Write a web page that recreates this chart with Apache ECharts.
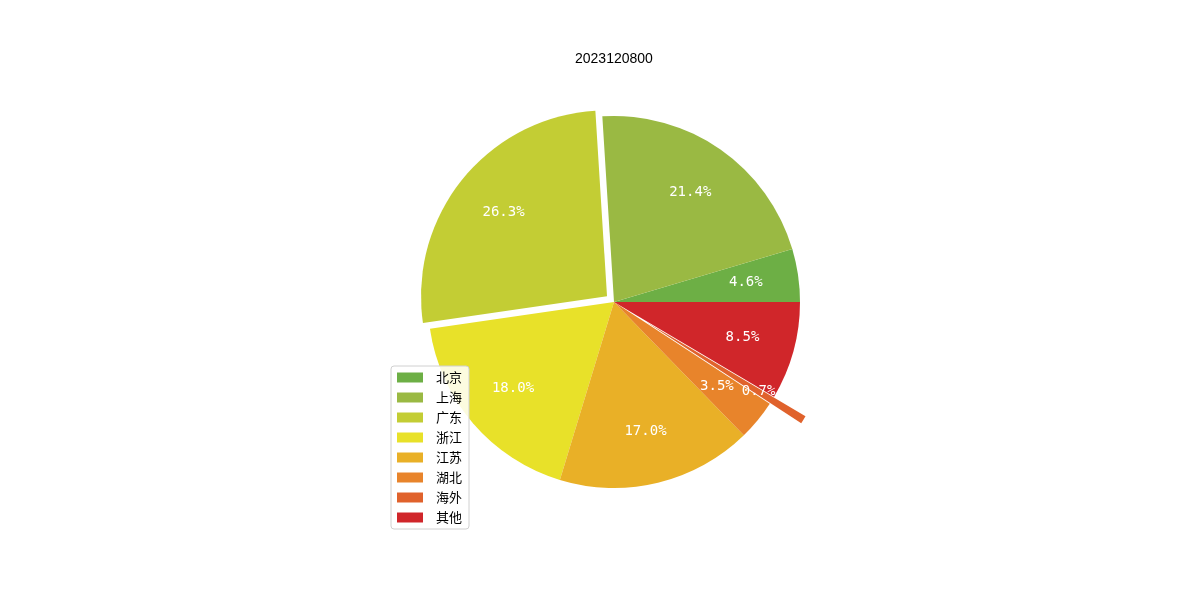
<!DOCTYPE html>
<html lang="zh">
<head>
  <meta charset="UTF-8">
  <title>2023120800</title>
  <script src="https://cdn.jsdelivr.net/npm/echarts@6/dist/echarts.min.js"></script>
  <style>
    html, body { margin: 0; padding: 0; background: #fff; }
    #main { width: 1200px; height: 600px; }
  </style>
</head>
<body>
<div id="main"></div>
<script>
  // 地区与占比（%）
  var regions = ['北京', '上海', '广东', '浙江', '江苏', '湖北', '海外', '其他'];
  var shares = [4.6, 21.4, 26.3, 18.0, 17.0, 3.5, 0.7, 8.5];
  var colors = ['#6daf45', '#9ab943', '#c3cd34', '#e8e129', '#e9b027', '#e8842b', '#e0622c', '#d0262a'];
  var explode = [0, 0, 9, 0, 0, 0, 37, 0];   // 像素偏移

  var cx = 614, cy = 302, r = 186;

  // 组装一个饼图系列：只显示 keep 里的扇区
  function makePie(keep, offset, radius, withLabel) {
    return {
      type: 'pie',
      center: [cx, cy],
      radius: radius,
      clockwise: false,
      startAngle: 0,
      minAngle: 0,
      avoidLabelOverlap: false,
      selectedMode: 'multiple',
      selectedOffset: offset,
      silent: true,
      animation: false,
      emphasis: { disabled: true },
      labelLine: { show: false },
      data: regions.map(function (name, i) {
        var on = keep(i);
        return {
          name: name,
          value: shares[i],
          selected: offset > 0 && explode[i] === offset,
          itemStyle: {
            color: (!withLabel && on) ? colors[i] : 'rgba(0,0,0,0)',
            borderWidth: 0
          },
          label: {
            show: withLabel && on,
            position: 'inside',
            color: '#fff',
            fontSize: 14,
            fontFamily: 'DejaVu Sans Mono',
            formatter: function () { return shares[i].toFixed(1) + '%'; }
          }
        };
      })
    };
  }

  var notFar = function (i) { return explode[i] !== 37; };
  var far = function (i) { return explode[i] === 37; };

  var myChart = echarts.init(document.getElementById('main'));
  var option = {
    backgroundColor: '#fff',
    animation: false,
    title: {
      text: '2023120800',
      left: 575,
      top: 52,
      padding: 0,
      textStyle: { fontSize: 14, fontWeight: 'normal', color: '#000', fontFamily: 'Liberation Sans' }
    },
    legend: {
      orient: 'vertical',
      left: 391,
      top: 366,
      padding: [5, 7, 5, 6],
      itemWidth: 26,
      itemHeight: 10,
      itemGap: 7,
      icon: 'rect',
      backgroundColor: 'rgba(255,255,255,0.85)',
      borderColor: '#d0d0d0',
      borderWidth: 1,
      borderRadius: 3,
      selectedMode: false,
      textStyle: { fontSize: 13, color: '#000', fontFamily: 'Noto Sans CJK SC', padding: [0, 0, 0, 8] },
      data: regions.map(function (name, i) {
        return { name: name, itemStyle: { color: colors[i] } };
      })
    },
    series: [
      makePie(notFar, 9, [0, r], false),
      makePie(far, 37, [0, r], false),
      makePie(notFar, 9, [r * 0.4, r], true),
      makePie(far, 37, [r * 0.4, r], true)
    ]
  };
  myChart.setOption(option);
</script>
</body>
</html>
